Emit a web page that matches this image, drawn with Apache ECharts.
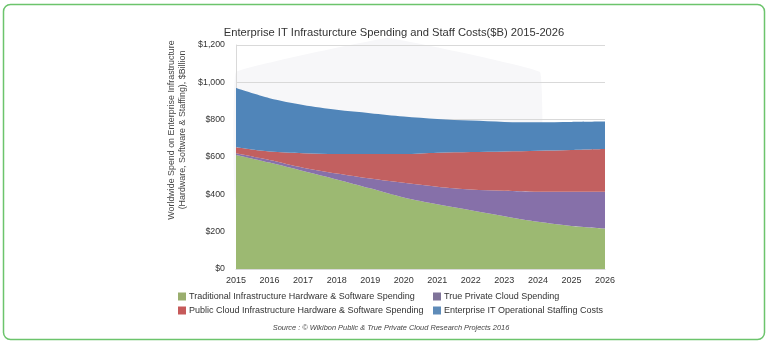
<!DOCTYPE html>
<html>
<head>
<meta charset="utf-8">
<script src="https://cdn.jsdelivr.net/npm/echarts@6/dist/echarts.min.js"></script>
<style>
html,body{margin:0;padding:0;background:#fff;}
#chart{width:768px;height:344px;}
</style>
</head>
<body>
<div id="chart"></div>
<script>
const years = ['2015','2016','2017','2018','2019','2020','2021','2022','2023','2024','2025','2026'];
const traditional = [611, 570, 525, 480, 432, 383, 347, 315, 283, 253, 231, 217];
const truePrivate = [9, 14, 18, 32, 53, 79, 94, 111, 136, 161, 183, 197];
const publicCloud = [32, 45, 77, 104, 131, 154, 182, 201, 211, 220, 224, 229];
const staffing = [317, 286, 259, 237, 219, 201, 181, 168, 158, 152, 150, 147];
const yTicks = [0, 200, 400, 600, 800, 1000, 1200];

const names = {
  trad: 'Traditional Infrastructure Hardware & Software Spending',
  priv: 'True Private Cloud Spending',
  pub: 'Public Cloud Infrastructure Hardware & Software Spending',
  staff: 'Enterprise IT Operational Staffing Costs'
};
const colors = {trad:'#9cb972', priv:'#8670a9', pub:'#c26060', staff:'#5085b9'};
const legendColors = {trad:'#9aae6e', priv:'#7f7399', pub:'#c65a5a', staff:'#5e8bb8'};
const FONT = '"Liberation Sans", Arial, sans-serif';

function areaSeries(key, data) {
  return {
    name: names[key], type: 'line', stack: 'total', data: data,
    smooth: 0.3, showSymbol: false, symbol: 'none', z: 2,
    lineStyle: {width: 0}, itemStyle: {color: legendColors[key]},
    areaStyle: {color: colors[key], opacity: 1}
  };
}
function legendAt(key, left, top) {
  return {
    data: [names[key]], left: left, top: top, orient: 'horizontal',
    icon: 'rect', itemWidth: 8, itemHeight: 8, padding: 0,
    selectedMode: false,
    textStyle: {fontFamily: FONT, fontSize: 9, color: '#333', padding: [0,0,0,-2]}
  };
}

const chart = echarts.init(document.getElementById('chart'), null, {renderer: 'canvas'});
chart.setOption({
  animation: false,
  backgroundColor: '#fff',
  textStyle: {fontFamily: FONT},
  title: {
    text: 'Enterprise IT Infrasturcture Spending and Staff Costs($B) 2015-2026',
    left: 389, top: 22, textAlign: 'center',
    textStyle: {fontFamily: FONT, fontSize: 11.2, fontWeight: 'normal', color: '#333'}
  },
  grid: {left: 236, right: 163, top: 45, bottom: 75, containLabel: false},
  xAxis: {
    type: 'category', data: years, boundaryGap: false,
    axisLine: {show: true, lineStyle: {color: '#d9d9d9'}},
    axisTick: {show: false},
    axisLabel: {fontFamily: FONT, fontSize: 9, color: '#333', margin: 7, interval: 0}
  },
  yAxis: {
    type: 'value', min: yTicks[0], max: yTicks[yTicks.length-1], interval: 200,
    axisLine: {show: true, lineStyle: {color: '#d9d9d9'}},
    axisTick: {show: false},
    splitLine: {lineStyle: {color: '#d9d9d9'}},
    axisLabel: {
      fontFamily: FONT, fontSize: 8.8, color: '#333', margin: 11,
      formatter: v => '$' + v.toLocaleString('en-US')
    }
  },
  legend: [
    legendAt('trad', 178, 292),
    legendAt('priv', 433, 292),
    legendAt('pub', 178, 306),
    legendAt('staff', 433, 306)
  ],
  series: [
    areaSeries('trad', traditional),
    areaSeries('priv', truePrivate),
    areaSeries('pub', publicCloud),
    areaSeries('staff', staffing)
  ],
  graphic: [
    {
      type: 'polygon', silent: true, z: -1, zlevel: 0,
      shape: {points: [[388,38],[540,72],[540,200],[384,254],[236,200],[236,72]], smooth: 0.05},
      style: {fill: '#f7f7f9'}
    },
    {
      type: 'text', silent: true, x: 177.5, y: 130, rotation: Math.PI/2,
      style: {
        text: 'Worldwide Spend on Enterprise Infrastructure\n(Hardware, Software & Staffing), $Billion',
        font: '8.9px ' + FONT, fill: '#444', align: 'center', verticalAlign: 'middle', lineHeight: 11
      }
    },
    {
      type: 'text', silent: true, x: 391, y: 328,
      style: {
        text: 'Source : \u00a9 Wikibon Public & True Private Cloud Research Projects 2016',
        font: 'italic 7.4px ' + FONT, fill: '#444', align: 'center', verticalAlign: 'middle'
      }
    },
    {
      type: 'rect', silent: true, z: 200,
      shape: {x: 3.5, y: 4.5, width: 761, height: 335, r: 7},
      style: {fill: 'none', stroke: '#6cc46c', lineWidth: 1.5}
    }
  ]
});
</script>
</body>
</html>
